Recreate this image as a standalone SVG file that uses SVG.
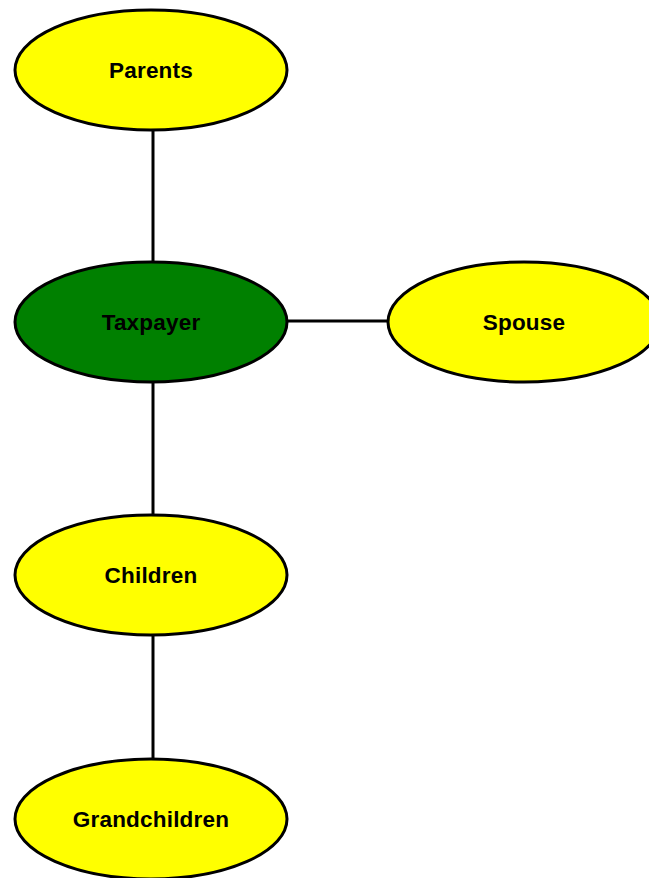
<svg xmlns="http://www.w3.org/2000/svg" width="649" height="878" viewBox="0 0 649 878">
<style>
.node ellipse{stroke:#000;stroke-width:3;fill:#ffff00}
.node text{font-family:"Liberation Sans",Arial,sans-serif;font-weight:bold;font-size:22.5px;letter-spacing:0.2px;text-anchor:middle;fill:#000}
.conn line{stroke:#000;stroke-width:3}
</style>
<rect width="649" height="878" fill="#fff"/>
<g class="conn">
<line x1="153" y1="130" x2="153" y2="262"/>
<line x1="153" y1="382" x2="153" y2="515"/>
<line x1="153" y1="635" x2="153" y2="758"/>
<line x1="287" y1="321" x2="388" y2="321"/>
</g>
<g id="parents" class="node"><ellipse cx="151" cy="70" rx="136" ry="60"/><text x="151" y="78">Parents</text></g>
<g id="taxpayer" class="node"><ellipse cx="151" cy="322" rx="136" ry="60" style="fill:#008000"/><text x="151" y="330">Taxpayer</text></g>
<g id="spouse" class="node"><ellipse cx="524" cy="322" rx="136" ry="60"/><text x="524" y="330">Spouse</text></g>
<g id="children" class="node"><ellipse cx="151" cy="575" rx="136" ry="60"/><text x="151" y="583">Children</text></g>
<g id="grandchildren" class="node"><ellipse cx="151" cy="819" rx="136" ry="60"/><text x="151" y="827">Grandchildren</text></g>
</svg>
